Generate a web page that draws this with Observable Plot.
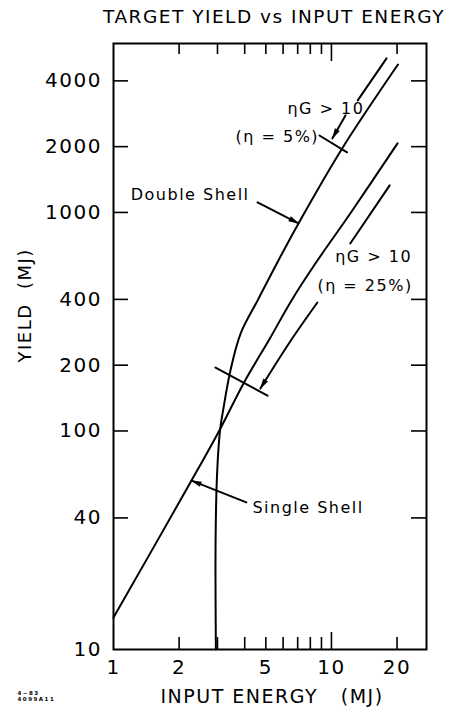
<!DOCTYPE html>
<html><head><meta charset="utf-8">
<script src="https://cdn.jsdelivr.net/npm/d3@7"></script>
<script src="https://cdn.jsdelivr.net/npm/@observablehq/plot@0.6"></script>
<style>
body{margin:0;background:#fff}
svg text{letter-spacing:1.5px}
g[aria-label="title"] text{letter-spacing:1.2px}
g[aria-label="stamp"] text{letter-spacing:0}
</style></head><body><div id="chart"></div>
<script>
// ---- data ----
const doubleShellEnergy = [2.95, 2.94, 2.98, 3.08, 3.2, 3.44, 3.83, 4.58, 5.71, 7.06, 11.2, 20.2];
const doubleShellYield  = [10, 30, 60, 100, 128, 189, 279, 395, 603, 891, 1963, 4750];

const singleShellEnergy = [1, 2.28, 3.1, 3.95, 5.25, 6.6, 8.5, 12.2, 20.1];
const singleShellYield  = [14, 59.3, 103, 165, 268, 400, 590, 989, 2070];

// eta = 5% bracket (upper part, lower part with arrow), and cross mark
const eta5UpperEnergy = [17.9, 13.2];
const eta5UpperYield  = [5070, 3258];
const eta5ArrowEnergy = [11.6, 10.1];
const eta5ArrowYield  = [2780, 2183];
const eta5MarkEnergy  = [8.81, 11.8];
const eta5MarkYield   = [2249, 1884];

// eta = 25% bracket
const eta25UpperEnergy = [18.5, 12.2];
const eta25UpperYield  = [1330, 721];
const eta25ArrowEnergy = [8.62, 6.49, 4.72];
const eta25ArrowYield  = [387, 258, 156.5];
const eta25MarkEnergy  = [2.94, 5.09];
const eta25MarkYield   = [195, 145];

// leaders
const doubleLeaderEnergy = [4.58, 7.06];
const doubleLeaderYield  = [1112, 891];
const singleLeaderEnergy = [4.07, 2.28];
const singleLeaderYield  = [47.1, 59.3];

// annotation labels
const labelText   = ["Double Shell", "Single Shell", "ηG > 10", "(η = 5%)", "ηG > 10", "(η = 25%)"];
const labelEnergy = [4.21, 4.34, 6.28, 3.63, 10.4, 8.62];
const labelYield  = [1197, 44.7, 2992, 2228, 629, 463];
const labelAnchor = ["end", "start", "start", "start", "start", "start"];

// ticks
const xTickLabels = [1, 2, 5, 10, 20];
const xMinorTicks = [2, 3, 4, 5, 6, 7, 8, 9, 20];
const xMajorTicks = [10];
const yTickLabels = [10, 40, 100, 200, 400, 1000, 2000, 4000];
const yTicks      = [40, 100, 200, 400, 1000, 2000, 4000];

const xDomain = [1, 27.3];
const yDomain = [10, 5930];

// ---- chart ----
const W = 458, H = 709;
const mL = 113, mR = 32, mT = 43, mB = 60;
const fw = W - mL - mR, fh = H - mT - mB;

function arrowHead(color) {
  const m = d3.create("svg:marker")
    .attr("viewBox", "-11 -4 12 8")
    .attr("markerWidth", 12).attr("markerHeight", 8)
    .attr("markerUnits", "userSpaceOnUse")
    .attr("orient", "auto")
    .attr("refX", 0).attr("refY", 0)
    .attr("overflow", "visible");
  m.append("path").attr("d", "M1,0L-10,-2.8L-10,2.8Z").attr("fill", color).attr("stroke", "none");
  return m.node();
}

const seg = (xs, ys, opts = {}) => Plot.line({length: xs.length}, {x: xs, y: ys, stroke: "black", strokeWidth: 2, ...opts});

const labels = labelText.map((t, i) => ({t, x: labelEnergy[i], y: labelYield[i], a: labelAnchor[i]}));
const labelMark = a => Plot.text(labels.filter(d => d.a === a), {x: "x", y: "y", text: "t", textAnchor: a, fontSize: 16, lineAnchor: "middle", fill: "black"});

const fontFamily = "DejaVu Sans, sans-serif";

const plot = Plot.plot({
  width: W, height: H,
  marginLeft: mL, marginRight: mR, marginTop: mT, marginBottom: mB,
  style: {fontFamily, color: "black", background: "white"},
  x: {type: "log", domain: xDomain},
  y: {type: "log", domain: yDomain},
  marks: [
    Plot.frame({stroke: "black", strokeWidth: 2}),
    // inward ticks
    Plot.ruleX(xMinorTicks, {x: d => d, insetTop: fh - 12, stroke: "black", strokeWidth: 1.6}),
    Plot.ruleX(xMajorTicks, {x: d => d, insetTop: fh - 17, stroke: "black", strokeWidth: 1.6}),
    Plot.ruleX(xMinorTicks, {x: d => d, insetBottom: fh - 11, stroke: "black", strokeWidth: 1.6}),
    Plot.ruleX(xMajorTicks, {x: d => d, insetBottom: fh - 18, stroke: "black", strokeWidth: 1.6}),
    Plot.ruleY(yTicks, {y: d => d, insetRight: fw - 15, stroke: "black", strokeWidth: 1.6}),
    Plot.ruleY(yTicks, {y: d => d, insetLeft: fw - 15, stroke: "black", strokeWidth: 1.6}),
    Plot.axisX({ticks: xTickLabels, tickSize: 0, tickPadding: 10, fontSize: 20, tickFormat: d => String(d), label: null}),
    Plot.axisY({ticks: yTickLabels, tickSize: 0, tickPadding: 11.5, fontSize: 20, tickFormat: d => String(d), label: null}),
    // curves
    seg(doubleShellEnergy, doubleShellYield, {curve: "catmull-rom"}),
    seg(singleShellEnergy, singleShellYield, {curve: "catmull-rom"}),
    seg(eta5UpperEnergy, eta5UpperYield),
    seg(eta5ArrowEnergy, eta5ArrowYield, {markerEnd: arrowHead}),
    seg(eta5MarkEnergy, eta5MarkYield),
    seg(eta25UpperEnergy, eta25UpperYield),
    seg(eta25ArrowEnergy, eta25ArrowYield, {curve: "catmull-rom", markerEnd: arrowHead}),
    seg(eta25MarkEnergy, eta25MarkYield),
    seg(doubleLeaderEnergy, doubleLeaderYield, {markerEnd: arrowHead}),
    seg(singleLeaderEnergy, singleLeaderYield, {markerEnd: arrowHead}),
    // labels
    labelMark("end"),
    labelMark("start"),
    Plot.text(["TARGET YIELD vs INPUT ENERGY"], {frameAnchor: "top", dx: 4, dy: -26, fontSize: 18.5, lineAnchor: "middle", ariaLabel: "title", fill: "black"}),
    Plot.text(["YIELD\u00a0\u00a0(MJ)"], {frameAnchor: "left", dx: -88, dy: 16, rotate: -90, fontSize: 18, lineAnchor: "middle", fill: "black"}),
    Plot.text(["INPUT ENERGY\u00a0\u00a0\u00a0(MJ)"], {frameAnchor: "bottom", dx: 2, dy: 47, fontSize: 19, lineAnchor: "middle", fill: "black"}),
    Plot.text(["4\u221283\n4099A11"], {frameAnchor: "bottom-left", dx: -96, dy: 47, fontSize: 5.5, fontWeight: "bold", lineHeight: 1.1, textAnchor: "start", lineAnchor: "middle", ariaLabel: "stamp", fill: "black"})
  ]
});
document.getElementById("chart").appendChild(plot);
</script></body></html>
